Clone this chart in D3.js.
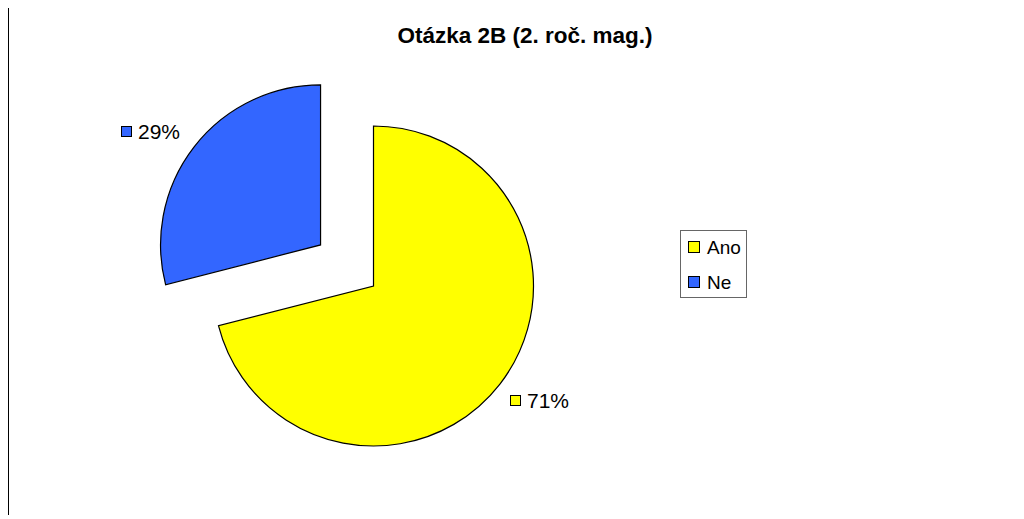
<!DOCTYPE html>
<html>
<head>
<meta charset="utf-8">
<script src="https://d3js.org/d3.v7.min.js"></script>
<style>
  body { margin: 0; background: #fff; }
  text { font-family: "Liberation Sans", Arial, sans-serif; }
</style>
</head>
<body>
<div id="chart"></div>
<script>
// data
const categories = ["Ano", "Ne"];
const values = [71, 29];
const colors = ["#ffff00", "#3366ff"];
const labels = ["71%", "29%"];

const width = 1024, height = 519;
const cx = 373.5, cy = 286, radius = 160;
const explode = 67;

const svg = d3.select("#chart").append("svg")
  .attr("width", width)
  .attr("height", height);

// left border line
svg.append("line")
  .attr("x1", 8.5).attr("x2", 8.5)
  .attr("y1", 8).attr("y2", 515)
  .attr("stroke", "#000").attr("stroke-width", 1);

svg.append("text")
  .attr("x", 525).attr("y", 43)
  .attr("text-anchor", "middle")
  .attr("font-size", 22.5).attr("font-weight", "bold")
  .text("Otázka 2B (2. roč. mag.)");

const pie = d3.pie().sort(null).value(d => d)(values);
const arc = d3.arc().innerRadius(0).outerRadius(radius);

const g = svg.append("g").attr("transform", `translate(${cx},${cy})`);

pie.forEach((p, i) => {
  const mid = (p.startAngle + p.endAngle) / 2;
  const off = i === 1 ? explode : 0;
  const dx = Math.sin(mid) * off, dy = -Math.cos(mid) * off;
  g.append("path")
    .attr("d", arc(p))
    .attr("transform", `translate(${dx},${dy})`)
    .attr("fill", colors[i])
    .attr("stroke", "#000")
    .attr("stroke-width", 1.2);
});

// data labels
const labelPos = [[510, 395], [121, 126]];
labels.forEach((t, i) => {
  const [x, y] = labelPos[i];
  svg.append("rect")
    .attr("x", x + 0.5).attr("y", y + 0.5)
    .attr("width", 10).attr("height", 10)
    .attr("fill", colors[i]).attr("stroke", "#000");
  svg.append("text")
    .attr("x", x + 17).attr("y", y + 13)
    .attr("font-size", 21)
    .text(t);
});

// legend
const lg = svg.append("g");
lg.append("rect")
  .attr("x", 680.5).attr("y", 230.5)
  .attr("width", 66).attr("height", 67)
  .attr("fill", "#fff").attr("stroke", "#666").attr("stroke-width", 1);
categories.forEach((c, i) => {
  const y = 241 + i * 35;
  lg.append("rect")
    .attr("x", 688.5).attr("y", y + 0.5)
    .attr("width", 11).attr("height", 11)
    .attr("fill", colors[i]).attr("stroke", "#000");
  lg.append("text")
    .attr("x", 707).attr("y", y + 13)
    .attr("font-size", 19)
    .text(c);
});
</script>
</body>
</html>
